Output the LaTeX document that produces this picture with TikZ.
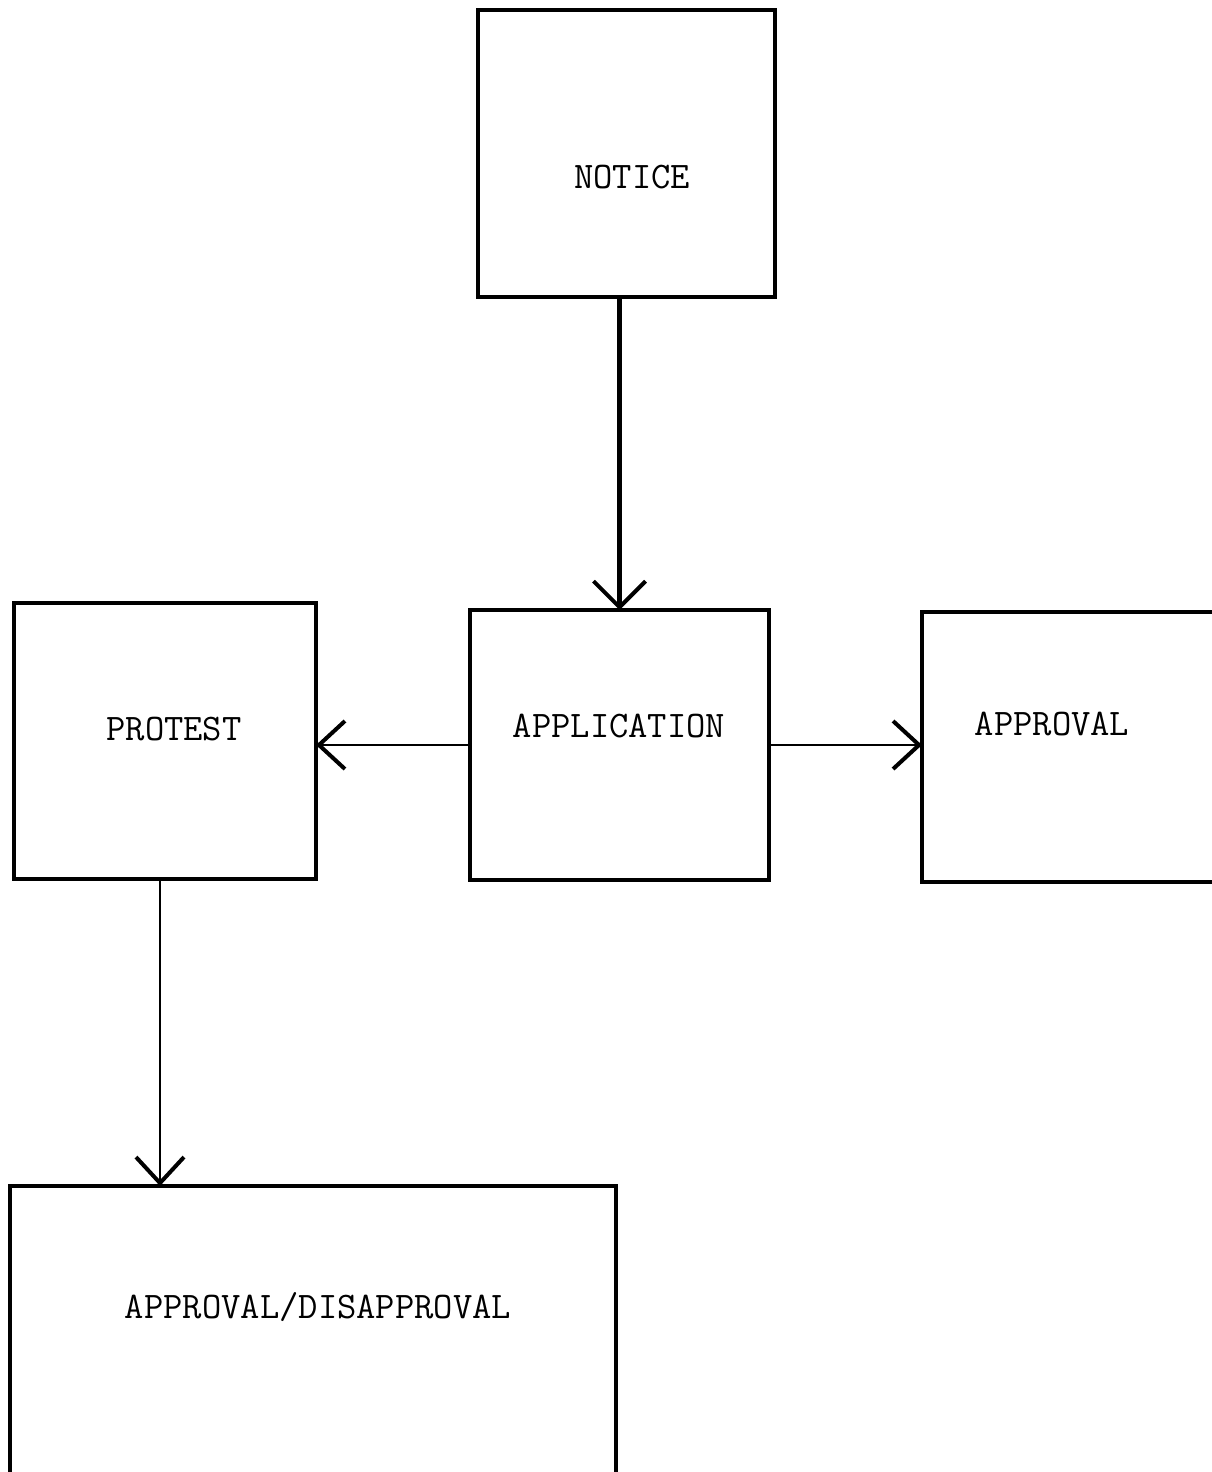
\documentclass[tikz,border=0pt]{standalone}
\usepackage{fontspec}
\usetikzlibrary{arrows.meta}
\begin{document}
\begin{tikzpicture}[x=1pt,y=-1pt,
  boxshape/.style={draw=none,rectangle,inner sep=0pt,outer sep=0pt},
  boxline/.style={line width=3.5pt,line cap=rect,line join=miter},
  lbl/.style={inner sep=0pt,font=\ttfamily\fontsize{37.5}{44}\selectfont},
  conn/.style={line width=2.5pt,-{Straight Barb[length=26pt,width=48pt,line width=4pt]}},
  mainconn/.style={line width=5pt,-{Straight Barb[length=26pt,width=52pt,line width=4pt]}}]
\useasboundingbox (0,0) rectangle (1211,1472);
% boxes
\node[boxshape,minimum width=297pt,minimum height=287pt] (notice) at (626.5,153.5) {};
\node[boxshape,minimum width=299pt,minimum height=270pt] (application) at (619.5,745) {};
\node[boxshape,minimum width=302pt,minimum height=276pt] (protest) at (165,741) {};
\node[boxshape,minimum width=330pt,minimum height=270pt] (approval) at (1087,747) {};
\node[boxshape,minimum width=606pt,minimum height=314pt] (ad) at (313,1343) {};
\draw[boxline] (notice.north west) rectangle (notice.south east);
\draw[boxline] (application.north west) rectangle (application.south east);
\draw[boxline] (protest.north west) rectangle (protest.south east);
\draw[boxline] (approval.north east) -- (approval.north west) -- (approval.south west) -- (approval.south east);
\draw[boxline] (ad.south west) -- (ad.north west) -- (ad.north east) -- (ad.south east);
% labels
\node[lbl] (tnotice) at (632,177) {NOTICE};
\node[lbl] (tapplication) at (619,726) {APPLICATION};
\node[lbl] (tprotest) at (174,729) {PROTEST};
\node[lbl] (tapproval) at (1052,724) {APPROVAL};
\node[lbl] (tad) at (318,1307) {APPROVAL/DISAPPROVAL};
% connectors
\draw[mainconn] (application.north |- notice.south) -- (application.north);
\draw[conn] (application.west) -- (application.west -| protest.east);
\draw[conn] (application.east) -- (application.east -| approval.west);
\draw[conn] ([xshift=-5pt]protest.south) -- ([xshift=-5pt]protest.south |- ad.north);
\end{tikzpicture}
\end{document}
